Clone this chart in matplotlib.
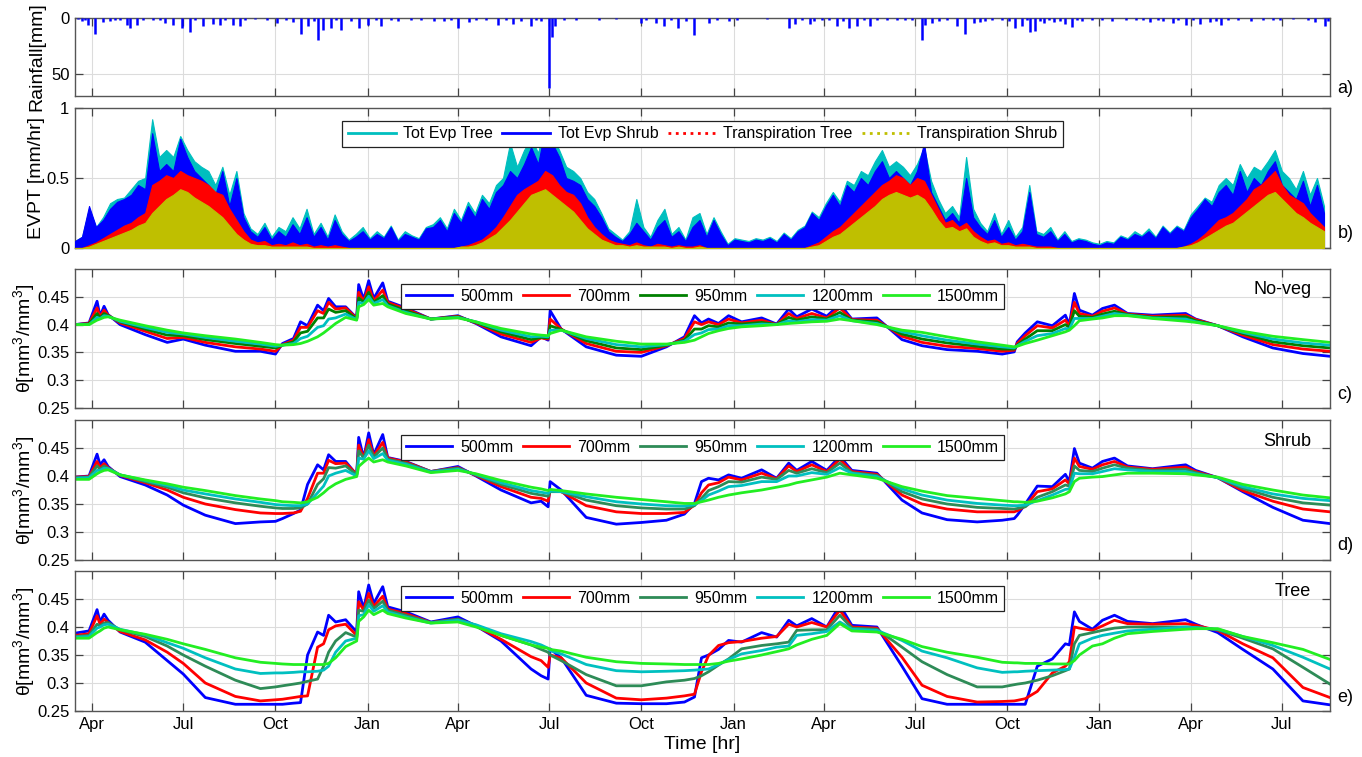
import numpy as np
import matplotlib
matplotlib.use('Agg')
import matplotlib.pyplot as plt
import matplotlib.dates as mdates
from matplotlib.lines import Line2D
from matplotlib.ticker import FuncFormatter

plt.rcParams['font.family'] = ['Liberation Sans', 'DejaVu Sans']
plt.rcParams['mathtext.fontset'] = 'custom'
plt.rcParams['mathtext.rm'] = 'Liberation Sans'
plt.rcParams['mathtext.it'] = 'Liberation Sans:italic'

# day 0 of the simulation
START = np.datetime64('2001-03-15')
N_DAYS = 1252

# --- rainfall events (day, mm) ---
rain_day = [3, 7, 10, 13, 20, 28, 35, 40, 45, 52, 55, 62, 68, 78, 85, 90, 98, 107, 115, 120,
            128, 138, 145, 150, 158, 165, 170, 180, 192, 202, 210, 217, 225, 232, 238, 242, 247, 255, 260, 265,
            275, 283, 292, 300, 305, 315, 322, 335, 345, 358, 368, 375, 382, 393, 400, 410, 422, 430, 437, 445,
            455, 460, 465, 473, 476, 479, 488, 500, 523, 540, 565, 570, 580, 588, 595, 602, 610, 618, 632, 640,
            652, 660, 690, 712, 718, 725, 733, 737, 745, 752, 760, 766, 772, 780, 787, 793, 800, 810, 820, 828,
            835, 845, 848, 855, 862, 870, 880, 888, 897, 903, 908, 915, 925, 932, 938, 945, 950, 953, 958, 963,
            967, 972, 977, 983, 988, 995, 1000, 1005, 1015, 1025, 1035, 1048, 1058, 1065, 1072, 1080, 1085, 1095, 1100, 1108,
            1115, 1122, 1132, 1138, 1143, 1150, 1160, 1173, 1185, 1195, 1202, 1215, 1230, 1237, 1247, 1250]
rain_mm = [1, 3, 2, 6, 14, 4, 3, 2, 1.5, 6, 9, 6, 2, 2, 1.5, 4.5, 6, 9, 13, 2,
           7.5, 5, 6, 1.5, 6, 7.5, 2, 1, 2, 4.5, 2, 4, 14, 7, 3, 20, 11, 9, 2, 11,
           3, 9, 6, 2, 7.5, 1.5, 3, 2, 2, 3, 3, 2, 9, 4, 1.5, 2, 6, 2, 5, 3,
           7.5, 2, 3, 63, 17, 7, 2, 1.5, 2, 1, 4.5, 2, 4.5, 7, 2, 9, 3, 15, 4.5, 2,
           3, 1.5, 1, 9, 5, 2, 5, 3, 2, 1.5, 7, 3, 9, 7.5, 2, 7.5, 2, 1.5, 2, 2,
           2, 20, 6, 4.5, 3, 2, 7.5, 14, 4.5, 4, 3, 2, 2, 3, 9, 7.5, 2, 13, 12, 3,
           4.5, 2, 4, 3, 5, 8, 2, 3, 1.5, 2, 3, 2, 2, 1.5, 4, 2, 3, 4.5, 2, 6,
           2, 5, 4, 3, 6, 2, 1.5, 3, 2, 1.5, 2, 1, 1.5, 4, 7, 3]

# --- evapotranspiration, weekly values [mm/hr] ---
evpt_day = np.arange(0, N_DAYS, 7)
tot_evp_tree = [
    0.05, 0.08, 0.28, 0.15, 0.22, 0.32, 0.35, 0.36, 0.42, 0.48, 0.50, 0.92, 0.65,
    0.70, 0.65, 0.80, 0.70, 0.62, 0.58, 0.55, 0.45, 0.58, 0.38, 0.55, 0.25, 0.14,
    0.10, 0.18, 0.08, 0.15, 0.12, 0.22, 0.14, 0.28, 0.10, 0.18, 0.08, 0.24, 0.12,
    0.06, 0.10, 0.15, 0.07, 0.12, 0.08, 0.16, 0.06, 0.12, 0.09, 0.07, 0.15, 0.17,
    0.22, 0.14, 0.28, 0.20, 0.33, 0.25, 0.38, 0.32, 0.45, 0.50, 0.75, 0.58, 0.70,
    0.78, 0.68, 0.88, 0.80, 0.70, 0.58, 0.55, 0.50, 0.40, 0.35, 0.25, 0.14, 0.10,
    0.06, 0.12, 0.35, 0.15, 0.08, 0.20, 0.28, 0.10, 0.15, 0.06, 0.22, 0.25, 0.10,
    0.22, 0.12, 0.03, 0.07, 0.06, 0.05, 0.07, 0.06, 0.08, 0.05, 0.11, 0.07, 0.13,
    0.16, 0.26, 0.22, 0.32, 0.40, 0.33, 0.48, 0.45, 0.55, 0.52, 0.62, 0.70, 0.58,
    0.62, 0.58, 0.52, 0.60, 0.72, 0.48, 0.35, 0.25, 0.30, 0.22, 0.65, 0.28, 0.18,
    0.12, 0.25, 0.10, 0.20, 0.08, 0.15, 0.45, 0.12, 0.10, 0.15, 0.06, 0.12, 0.05,
    0.07, 0.06, 0.04, 0.03, 0.05, 0.04, 0.09, 0.07, 0.12, 0.09, 0.14, 0.08, 0.16,
    0.11, 0.16, 0.13, 0.24, 0.30, 0.36, 0.33, 0.45, 0.50, 0.45, 0.60, 0.50, 0.58,
    0.55, 0.62, 0.70, 0.55, 0.50, 0.42, 0.55, 0.38, 0.50, 0.30]
tot_evp_shrub = [
    0.05, 0.08, 0.30, 0.15, 0.20, 0.28, 0.33, 0.35, 0.38, 0.45, 0.42, 0.82, 0.55,
    0.60, 0.55, 0.78, 0.65, 0.55, 0.50, 0.45, 0.38, 0.55, 0.30, 0.50, 0.22, 0.12,
    0.08, 0.15, 0.06, 0.12, 0.08, 0.17, 0.10, 0.22, 0.08, 0.15, 0.06, 0.20, 0.10,
    0.05, 0.08, 0.12, 0.06, 0.10, 0.07, 0.15, 0.05, 0.10, 0.08, 0.06, 0.14, 0.15,
    0.20, 0.12, 0.25, 0.18, 0.30, 0.22, 0.35, 0.28, 0.40, 0.45, 0.55, 0.50, 0.60,
    0.72, 0.60, 0.85, 0.75, 0.65, 0.50, 0.48, 0.45, 0.35, 0.30, 0.22, 0.12, 0.08,
    0.05, 0.10, 0.18, 0.12, 0.06, 0.15, 0.20, 0.08, 0.12, 0.05, 0.15, 0.20, 0.08,
    0.20, 0.10, 0.02, 0.06, 0.05, 0.04, 0.06, 0.05, 0.07, 0.04, 0.10, 0.06, 0.12,
    0.15, 0.25, 0.20, 0.30, 0.38, 0.30, 0.45, 0.40, 0.50, 0.45, 0.55, 0.62, 0.50,
    0.55, 0.50, 0.45, 0.55, 0.75, 0.40, 0.30, 0.20, 0.25, 0.18, 0.50, 0.22, 0.15,
    0.10, 0.20, 0.08, 0.15, 0.06, 0.12, 0.40, 0.10, 0.08, 0.12, 0.05, 0.10, 0.04,
    0.06, 0.05, 0.03, 0.02, 0.04, 0.03, 0.08, 0.06, 0.10, 0.08, 0.12, 0.07, 0.15,
    0.10, 0.15, 0.12, 0.22, 0.28, 0.35, 0.30, 0.40, 0.45, 0.38, 0.55, 0.40, 0.50,
    0.45, 0.55, 0.62, 0.45, 0.40, 0.35, 0.48, 0.30, 0.45, 0.25]
transp_tree = [
    0.00, 0.00, 0.02, 0.04, 0.07, 0.10, 0.13, 0.16, 0.18, 0.22, 0.25, 0.45, 0.48,
    0.52, 0.50, 0.55, 0.52, 0.50, 0.48, 0.45, 0.40, 0.38, 0.28, 0.20, 0.12, 0.06,
    0.04, 0.05, 0.02, 0.03, 0.02, 0.04, 0.02, 0.03, 0.01, 0.02, 0.01, 0.02, 0.01,
    0.00, 0.00, 0.00, 0.00, 0.00, 0.00, 0.00, 0.00, 0.00, 0.00, 0.00, 0.00, 0.00,
    0.00, 0.00, 0.00, 0.01, 0.02, 0.04, 0.06, 0.10, 0.15, 0.22, 0.30, 0.38, 0.42,
    0.45, 0.48, 0.55, 0.52, 0.45, 0.40, 0.38, 0.32, 0.22, 0.15, 0.10, 0.06, 0.04,
    0.03, 0.02, 0.04, 0.02, 0.01, 0.03, 0.02, 0.01, 0.02, 0.01, 0.01, 0.02, 0.00,
    0.00, 0.00, 0.00, 0.00, 0.00, 0.00, 0.00, 0.00, 0.00, 0.00, 0.00, 0.00, 0.00,
    0.00, 0.02, 0.04, 0.08, 0.12, 0.15, 0.20, 0.25, 0.30, 0.35, 0.40, 0.45, 0.48,
    0.52, 0.50, 0.45, 0.50, 0.48, 0.38, 0.28, 0.18, 0.20, 0.15, 0.18, 0.12, 0.08,
    0.05, 0.06, 0.03, 0.04, 0.02, 0.03, 0.02, 0.01, 0.01, 0.01, 0.00, 0.00, 0.00,
    0.00, 0.00, 0.00, 0.00, 0.00, 0.00, 0.00, 0.00, 0.00, 0.00, 0.00, 0.00, 0.00,
    0.00, 0.00, 0.01, 0.03, 0.06, 0.10, 0.15, 0.20, 0.22, 0.25, 0.30, 0.35, 0.42,
    0.45, 0.50, 0.55, 0.45, 0.38, 0.35, 0.32, 0.25, 0.20, 0.15]
transp_shrub = [
    0.00, 0.00, 0.01, 0.03, 0.05, 0.07, 0.09, 0.11, 0.13, 0.16, 0.18, 0.25, 0.30,
    0.35, 0.38, 0.42, 0.40, 0.36, 0.33, 0.30, 0.26, 0.22, 0.16, 0.10, 0.06, 0.03,
    0.02, 0.02, 0.01, 0.01, 0.01, 0.01, 0.01, 0.01, 0.00, 0.00, 0.00, 0.00, 0.00,
    0.00, 0.00, 0.00, 0.00, 0.00, 0.00, 0.00, 0.00, 0.00, 0.00, 0.00, 0.00, 0.00,
    0.00, 0.00, 0.00, 0.01, 0.01, 0.02, 0.04, 0.07, 0.10, 0.15, 0.20, 0.26, 0.32,
    0.38, 0.40, 0.42, 0.38, 0.34, 0.30, 0.26, 0.20, 0.14, 0.10, 0.06, 0.04, 0.02,
    0.02, 0.01, 0.02, 0.01, 0.01, 0.01, 0.01, 0.00, 0.01, 0.00, 0.00, 0.01, 0.00,
    0.00, 0.00, 0.00, 0.00, 0.00, 0.00, 0.00, 0.00, 0.00, 0.00, 0.00, 0.00, 0.00,
    0.00, 0.01, 0.02, 0.05, 0.08, 0.10, 0.14, 0.18, 0.22, 0.26, 0.30, 0.35, 0.38,
    0.40, 0.38, 0.36, 0.38, 0.35, 0.28, 0.20, 0.14, 0.15, 0.12, 0.14, 0.08, 0.05,
    0.03, 0.04, 0.02, 0.02, 0.01, 0.01, 0.01, 0.00, 0.00, 0.00, 0.00, 0.00, 0.00,
    0.00, 0.00, 0.00, 0.00, 0.00, 0.00, 0.00, 0.00, 0.00, 0.00, 0.00, 0.00, 0.00,
    0.00, 0.00, 0.01, 0.02, 0.04, 0.07, 0.10, 0.13, 0.16, 0.18, 0.22, 0.26, 0.30,
    0.34, 0.38, 0.40, 0.35, 0.30, 0.25, 0.22, 0.18, 0.15, 0.12]

# --- soil moisture [mm3/mm3] at the sampled days below ---
theta_day = [0, 14, 22, 25, 29, 33, 45, 70, 92, 108, 130, 160, 185, 200, 207, 218, 225, 232, 242, 248,
             253, 260, 270, 281, 283, 288, 293, 298, 307, 312, 330, 355,
             382, 400, 425, 455, 465, 472, 474, 485, 510, 540, 565, 590, 608, 618, 625, 632, 642, 652,
             665, 685, 700, 712, 720, 735, 750, 763, 775, 800, 825,
             845, 870, 900, 925, 937, 940, 948, 960, 975, 988, 992, 997, 1002, 1015, 1025, 1037, 1050, 1075,
             1108, 1118, 1140, 1165, 1195, 1225, 1252]

depths = ['500mm', '700mm', '950mm', '1200mm', '1500mm']

# no vegetation
noveg_500 = [0.400, 0.403, 0.442, 0.415, 0.433, 0.418, 0.400, 0.382, 0.368, 0.374, 0.363, 0.352, 0.352, 0.347, 0.366, 0.375, 0.405, 0.398, 0.435, 0.425, 0.447, 0.432, 0.432, 0.412, 0.472, 0.445, 0.479, 0.447, 0.475, 0.442, 0.430, 0.410,
             0.416, 0.402, 0.378, 0.362, 0.378, 0.372, 0.425, 0.392, 0.360, 0.345, 0.343, 0.360, 0.378, 0.416, 0.403, 0.410, 0.402, 0.416, 0.405, 0.412, 0.401, 0.428, 0.414, 0.428, 0.415, 0.437, 0.410, 0.412, 0.373,
             0.362, 0.355, 0.352, 0.347, 0.351, 0.369, 0.385, 0.405, 0.398, 0.417, 0.400, 0.456, 0.426, 0.417, 0.429, 0.435, 0.420, 0.417, 0.420, 0.410, 0.398, 0.378, 0.358, 0.348, 0.343]
noveg_700 = [0.400, 0.402, 0.430, 0.414, 0.426, 0.417, 0.403, 0.388, 0.375, 0.377, 0.368, 0.360, 0.356, 0.352, 0.364, 0.372, 0.395, 0.395, 0.425, 0.420, 0.440, 0.428, 0.430, 0.411, 0.458, 0.442, 0.468, 0.443, 0.462, 0.440, 0.428, 0.410,
             0.415, 0.403, 0.383, 0.368, 0.376, 0.374, 0.410, 0.392, 0.366, 0.352, 0.350, 0.362, 0.375, 0.405, 0.400, 0.405, 0.400, 0.410, 0.403, 0.408, 0.400, 0.420, 0.411, 0.420, 0.412, 0.430, 0.409, 0.408, 0.379,
             0.368, 0.361, 0.357, 0.352, 0.354, 0.366, 0.380, 0.398, 0.394, 0.408, 0.398, 0.440, 0.420, 0.415, 0.424, 0.430, 0.419, 0.415, 0.417, 0.409, 0.398, 0.381, 0.364, 0.356, 0.352]
noveg_950 = [0.400, 0.401, 0.420, 0.412, 0.420, 0.416, 0.405, 0.392, 0.381, 0.380, 0.373, 0.366, 0.361, 0.358, 0.363, 0.369, 0.385, 0.388, 0.412, 0.412, 0.428, 0.422, 0.425, 0.410, 0.448, 0.440, 0.458, 0.440, 0.452, 0.437, 0.425, 0.410,
             0.414, 0.404, 0.387, 0.373, 0.377, 0.376, 0.398, 0.391, 0.371, 0.358, 0.355, 0.363, 0.372, 0.392, 0.392, 0.398, 0.396, 0.403, 0.401, 0.404, 0.400, 0.413, 0.408, 0.414, 0.410, 0.422, 0.408, 0.405, 0.383,
             0.374, 0.367, 0.361, 0.356, 0.356, 0.363, 0.374, 0.389, 0.389, 0.400, 0.395, 0.425, 0.415, 0.413, 0.419, 0.424, 0.418, 0.413, 0.414, 0.407, 0.398, 0.384, 0.369, 0.362, 0.358]
noveg_1200 = [0.400, 0.400, 0.413, 0.411, 0.416, 0.415, 0.406, 0.395, 0.386, 0.383, 0.377, 0.370, 0.365, 0.361, 0.363, 0.366, 0.375, 0.379, 0.395, 0.398, 0.410, 0.412, 0.419, 0.409, 0.440, 0.438, 0.451, 0.438, 0.445, 0.434, 0.422, 0.410,
              0.413, 0.405, 0.390, 0.378, 0.379, 0.378, 0.390, 0.390, 0.375, 0.364, 0.360, 0.364, 0.370, 0.382, 0.385, 0.391, 0.392, 0.398, 0.398, 0.401, 0.400, 0.407, 0.405, 0.409, 0.408, 0.416, 0.407, 0.402, 0.387,
              0.380, 0.372, 0.365, 0.360, 0.358, 0.362, 0.370, 0.380, 0.384, 0.393, 0.392, 0.411, 0.411, 0.411, 0.415, 0.420, 0.417, 0.412, 0.410, 0.405, 0.398, 0.386, 0.374, 0.367, 0.363]
noveg_1500 = [0.400, 0.400, 0.408, 0.410, 0.413, 0.414, 0.408, 0.398, 0.390, 0.385, 0.380, 0.374, 0.368, 0.364, 0.363, 0.364, 0.366, 0.370, 0.378, 0.385, 0.392, 0.402, 0.413, 0.408, 0.432, 0.436, 0.445, 0.435, 0.438, 0.432, 0.420, 0.410,
              0.412, 0.405, 0.393, 0.383, 0.381, 0.380, 0.384, 0.390, 0.378, 0.370, 0.365, 0.365, 0.368, 0.372, 0.378, 0.384, 0.389, 0.393, 0.396, 0.398, 0.400, 0.402, 0.403, 0.405, 0.406, 0.410, 0.407, 0.400, 0.390,
              0.386, 0.378, 0.369, 0.363, 0.360, 0.361, 0.366, 0.372, 0.380, 0.387, 0.390, 0.398, 0.407, 0.410, 0.412, 0.416, 0.416, 0.411, 0.406, 0.404, 0.398, 0.388, 0.379, 0.373, 0.368]

# shrub cover
shrub_500 = [0.398, 0.400, 0.439, 0.420, 0.429, 0.417, 0.399, 0.384, 0.366, 0.348, 0.330, 0.315, 0.318, 0.319, 0.324, 0.333, 0.339, 0.385, 0.420, 0.411, 0.438, 0.426, 0.426, 0.402, 0.469, 0.432, 0.477, 0.438, 0.474, 0.433, 0.426, 0.408,
             0.417, 0.400, 0.375, 0.352, 0.355, 0.345, 0.390, 0.375, 0.326, 0.314, 0.317, 0.321, 0.332, 0.351, 0.390, 0.396, 0.393, 0.402, 0.396, 0.411, 0.396, 0.423, 0.410, 0.426, 0.410, 0.435, 0.410, 0.405, 0.357,
             0.334, 0.322, 0.318, 0.321, 0.324, 0.330, 0.350, 0.382, 0.381, 0.403, 0.390, 0.449, 0.423, 0.414, 0.426, 0.432, 0.418, 0.413, 0.420, 0.410, 0.397, 0.372, 0.344, 0.321, 0.315]
shrub_700 = [0.398, 0.399, 0.426, 0.415, 0.422, 0.415, 0.401, 0.388, 0.375, 0.362, 0.350, 0.340, 0.334, 0.333, 0.333, 0.334, 0.337, 0.360, 0.405, 0.405, 0.428, 0.422, 0.423, 0.403, 0.455, 0.432, 0.465, 0.436, 0.460, 0.432, 0.425, 0.408,
             0.415, 0.401, 0.381, 0.362, 0.360, 0.355, 0.375, 0.372, 0.347, 0.336, 0.333, 0.333, 0.335, 0.348, 0.370, 0.384, 0.388, 0.398, 0.393, 0.405, 0.395, 0.418, 0.408, 0.420, 0.408, 0.430, 0.408, 0.403, 0.366,
             0.350, 0.341, 0.336, 0.336, 0.336, 0.338, 0.346, 0.372, 0.377, 0.393, 0.386, 0.432, 0.417, 0.412, 0.420, 0.426, 0.416, 0.412, 0.416, 0.408, 0.397, 0.374, 0.355, 0.341, 0.336]
shrub_950 = [0.397, 0.398, 0.418, 0.412, 0.418, 0.414, 0.402, 0.390, 0.380, 0.370, 0.361, 0.352, 0.346, 0.343, 0.342, 0.342, 0.343, 0.350, 0.385, 0.395, 0.415, 0.414, 0.418, 0.402, 0.445, 0.432, 0.455, 0.434, 0.450, 0.430, 0.423, 0.408,
             0.414, 0.402, 0.385, 0.369, 0.366, 0.364, 0.372, 0.372, 0.357, 0.347, 0.343, 0.341, 0.341, 0.347, 0.360, 0.374, 0.381, 0.390, 0.389, 0.398, 0.394, 0.410, 0.405, 0.413, 0.406, 0.423, 0.406, 0.401, 0.372,
             0.359, 0.350, 0.344, 0.342, 0.341, 0.342, 0.345, 0.362, 0.372, 0.384, 0.382, 0.418, 0.410, 0.408, 0.414, 0.420, 0.414, 0.410, 0.412, 0.406, 0.397, 0.378, 0.362, 0.352, 0.348]
shrub_1200 = [0.396, 0.397, 0.410, 0.410, 0.414, 0.413, 0.402, 0.392, 0.383, 0.375, 0.368, 0.359, 0.353, 0.349, 0.348, 0.347, 0.347, 0.350, 0.370, 0.382, 0.400, 0.405, 0.410, 0.400, 0.432, 0.430, 0.445, 0.431, 0.440, 0.428, 0.421, 0.407,
              0.412, 0.403, 0.388, 0.374, 0.371, 0.369, 0.373, 0.372, 0.363, 0.354, 0.350, 0.347, 0.346, 0.349, 0.356, 0.366, 0.373, 0.381, 0.383, 0.390, 0.390, 0.400, 0.400, 0.406, 0.403, 0.415, 0.405, 0.399, 0.377,
              0.366, 0.357, 0.351, 0.348, 0.347, 0.347, 0.348, 0.356, 0.366, 0.376, 0.377, 0.405, 0.404, 0.404, 0.408, 0.413, 0.411, 0.408, 0.408, 0.404, 0.397, 0.381, 0.368, 0.360, 0.356]
shrub_1500 = [0.394, 0.394, 0.404, 0.407, 0.410, 0.411, 0.402, 0.393, 0.386, 0.380, 0.374, 0.365, 0.359, 0.356, 0.354, 0.353, 0.352, 0.354, 0.362, 0.370, 0.378, 0.386, 0.394, 0.399, 0.417, 0.425, 0.432, 0.425, 0.429, 0.425, 0.418, 0.406,
              0.410, 0.404, 0.392, 0.380, 0.377, 0.374, 0.376, 0.374, 0.368, 0.362, 0.358, 0.354, 0.351, 0.351, 0.354, 0.357, 0.362, 0.366, 0.370, 0.375, 0.380, 0.384, 0.388, 0.393, 0.398, 0.405, 0.402, 0.396, 0.381,
              0.373, 0.365, 0.360, 0.356, 0.354, 0.354, 0.353, 0.355, 0.361, 0.368, 0.372, 0.390, 0.396, 0.398, 0.399, 0.402, 0.405, 0.405, 0.404, 0.402, 0.398, 0.385, 0.375, 0.366, 0.361]

# tree cover
tree_500 = [0.389, 0.393, 0.431, 0.409, 0.423, 0.412, 0.391, 0.373, 0.340, 0.316, 0.274, 0.262, 0.262, 0.262, 0.262, 0.264, 0.265, 0.350, 0.391, 0.385, 0.421, 0.409, 0.413, 0.391, 0.463, 0.433, 0.475, 0.442, 0.472, 0.436, 0.427, 0.409,
            0.418, 0.402, 0.375, 0.325, 0.313, 0.307, 0.361, 0.345, 0.278, 0.264, 0.263, 0.263, 0.266, 0.275, 0.345, 0.350, 0.360, 0.376, 0.373, 0.390, 0.382, 0.412, 0.402, 0.415, 0.400, 0.439, 0.403, 0.400, 0.330,
            0.272, 0.262, 0.262, 0.262, 0.262, 0.262, 0.262, 0.330, 0.343, 0.370, 0.368, 0.427, 0.410, 0.396, 0.412, 0.421, 0.410, 0.406, 0.413, 0.405, 0.390, 0.360, 0.325, 0.268, 0.261]
tree_700 = [0.385, 0.388, 0.420, 0.405, 0.414, 0.408, 0.392, 0.377, 0.355, 0.335, 0.300, 0.276, 0.268, 0.270, 0.271, 0.274, 0.276, 0.277, 0.364, 0.370, 0.395, 0.402, 0.405, 0.385, 0.445, 0.430, 0.460, 0.437, 0.455, 0.432, 0.424, 0.408,
            0.414, 0.402, 0.378, 0.347, 0.340, 0.328, 0.350, 0.345, 0.300, 0.273, 0.270, 0.273, 0.277, 0.280, 0.320, 0.349, 0.367, 0.372, 0.374, 0.380, 0.383, 0.405, 0.400, 0.408, 0.400, 0.430, 0.400, 0.398, 0.346,
            0.296, 0.276, 0.266, 0.267, 0.268, 0.269, 0.272, 0.285, 0.318, 0.330, 0.338, 0.400, 0.398, 0.394, 0.402, 0.412, 0.406, 0.405, 0.406, 0.403, 0.394, 0.370, 0.345, 0.292, 0.274]
tree_950 = [0.383, 0.385, 0.405, 0.402, 0.407, 0.408, 0.395, 0.383, 0.366, 0.350, 0.330, 0.305, 0.290, 0.293, 0.295, 0.298, 0.300, 0.303, 0.307, 0.330, 0.355, 0.375, 0.390, 0.382, 0.430, 0.428, 0.448, 0.433, 0.446, 0.430, 0.421, 0.408,
            0.414, 0.403, 0.385, 0.368, 0.360, 0.355, 0.350, 0.340, 0.315, 0.295, 0.295, 0.302, 0.305, 0.308, 0.313, 0.320, 0.332, 0.343, 0.361, 0.367, 0.370, 0.373, 0.394, 0.395, 0.395, 0.421, 0.398, 0.396, 0.364,
            0.338, 0.315, 0.293, 0.293, 0.297, 0.298, 0.300, 0.305, 0.313, 0.322, 0.325, 0.370, 0.385, 0.390, 0.394, 0.398, 0.400, 0.400, 0.400, 0.399, 0.395, 0.380, 0.361, 0.328, 0.298]
tree_1200 = [0.382, 0.383, 0.398, 0.400, 0.404, 0.405, 0.396, 0.386, 0.372, 0.362, 0.345, 0.325, 0.317, 0.318, 0.318, 0.319, 0.320, 0.320, 0.321, 0.323, 0.330, 0.355, 0.375, 0.380, 0.420, 0.422, 0.440, 0.428, 0.438, 0.427, 0.418, 0.407,
             0.412, 0.404, 0.388, 0.374, 0.368, 0.362, 0.358, 0.352, 0.333, 0.322, 0.320, 0.321, 0.322, 0.323, 0.324, 0.325, 0.333, 0.342, 0.352, 0.358, 0.364, 0.366, 0.385, 0.388, 0.392, 0.409, 0.396, 0.394, 0.376,
             0.357, 0.345, 0.327, 0.319, 0.320, 0.320, 0.321, 0.322, 0.323, 0.324, 0.325, 0.346, 0.370, 0.380, 0.385, 0.389, 0.393, 0.396, 0.400, 0.399, 0.396, 0.383, 0.367, 0.346, 0.325]
tree_1500 = [0.380, 0.380, 0.390, 0.393, 0.398, 0.400, 0.395, 0.387, 0.378, 0.370, 0.360, 0.345, 0.337, 0.335, 0.334, 0.333, 0.333, 0.333, 0.333, 0.333, 0.335, 0.345, 0.365, 0.375, 0.410, 0.418, 0.430, 0.422, 0.430, 0.424, 0.416, 0.407,
             0.409, 0.400, 0.385, 0.368, 0.364, 0.362, 0.360, 0.357, 0.346, 0.338, 0.335, 0.334, 0.333, 0.333, 0.333, 0.333, 0.335, 0.339, 0.343, 0.350, 0.356, 0.361, 0.368, 0.378, 0.385, 0.406, 0.393, 0.391, 0.378,
             0.365, 0.355, 0.346, 0.337, 0.336, 0.336, 0.335, 0.335, 0.334, 0.334, 0.334, 0.340, 0.350, 0.366, 0.370, 0.380, 0.388, 0.392, 0.396, 0.397, 0.397, 0.383, 0.372, 0.360, 0.342]

for s in (noveg_500, noveg_700, noveg_950, noveg_1200, noveg_1500,
          shrub_500, shrub_700, shrub_950, shrub_1200, shrub_1500,
          tree_500, tree_700, tree_950, tree_1200, tree_1500):
    assert len(s) == len(theta_day), len(s)
assert len(rain_day) == len(rain_mm)
for s in (tot_evp_tree, tot_evp_shrub, transp_tree, transp_shrub):
    assert len(s) == len(evpt_day), len(s)


def days_to_dates(days):
    return START + np.asarray(days).astype('timedelta64[D]')


def style_axis(ax, yticks, ylim, show_xlabels=False):
    ax.set_xlim(days_to_dates(0), days_to_dates(N_DAYS))
    ax.set_ylim(*ylim)
    ax.set_yticks(yticks)
    ax.yaxis.set_major_formatter(FuncFormatter(lambda v, p: '%g' % v))
    ax.xaxis.set_major_locator(mdates.MonthLocator(bymonth=[1, 4, 7, 10]))
    ax.xaxis.set_major_formatter(mdates.DateFormatter('%b'))
    ax.grid(True, color='#dcdcdc', lw=0.8)
    ax.set_axisbelow(True)
    ax.tick_params(direction='in', length=6, width=0.9, top=True, right=True,
                   labelsize=12, color='#444444', pad=4)
    if not show_xlabels:
        ax.tick_params(labelbottom=False)
    for sp in ax.spines.values():
        sp.set_color('#555555')
        sp.set_linewidth(1.0)


fig = plt.figure(figsize=(13.62, 7.57), dpi=100)
L, W = 75 / 1362, 1255 / 1362
H = 757


def axes_px(top, bottom):
    return fig.add_axes([L, 1 - bottom / H, W, (bottom - top) / H])


ax_a = axes_px(18, 96)
ax_b = axes_px(108, 248)
ax_c = axes_px(269, 408)
ax_d = axes_px(420, 560)
ax_e = axes_px(571, 711)

# a) rainfall, drawn downwards from the top
ax_a.axhline(0, color='#0000ff', lw=1.2, zorder=2)
ax_a.vlines(days_to_dates(rain_day), 0, rain_mm, color='#0000ff', lw=1.8, zorder=3)
style_axis(ax_a, [0, 50], (70, 0))
ax_a.set_ylabel('Rainfall[mm]', fontsize=14)

# b) evapotranspiration
t = days_to_dates(evpt_day)
ax_b.fill_between(t, 0, tot_evp_tree, color='#00bfbf', lw=0.8, zorder=2)
ax_b.fill_between(t, 0, tot_evp_shrub, color='#0000ff', lw=0.8, zorder=3)
ax_b.fill_between(t, 0, transp_tree, color='#ff0000', lw=0.8, zorder=4)
ax_b.fill_between(t, 0, transp_shrub, color='#bfbf00', lw=0.8, zorder=5)
style_axis(ax_b, [0, 0.5, 1], (0, 1))
ax_b.set_ylabel('EVPT [mm/hr]', fontsize=14)
evpt_handles = [Line2D([], [], color='#00bfbf', lw=2),
                Line2D([], [], color='#0000ff', lw=2),
                Line2D([], [], color='#ff0000', lw=2, ls=':'),
                Line2D([], [], color='#bfbf00', lw=2, ls=':')]
leg = ax_b.legend(evpt_handles, ['Tot Evp Tree', 'Tot Evp Shrub', 'Transpiration Tree', 'Transpiration Shrub'],
                  ncol=4, loc='upper center', bbox_to_anchor=(0.5, 0.965), fontsize=11.5,
                  handlelength=3.0, handletextpad=0.45, columnspacing=0.6,
                  fancybox=False, edgecolor='#222222', framealpha=1, borderpad=0.35)
leg.get_frame().set_linewidth(0.9)
leg.set_zorder(10)

# c-e) soil moisture by depth
panels = [
    (ax_c, [noveg_500, noveg_700, noveg_950, noveg_1200, noveg_1500], 'No-veg', '#008000'),
    (ax_d, [shrub_500, shrub_700, shrub_950, shrub_1200, shrub_1500], 'Shrub', '#2e8b57'),
    (ax_e, [tree_500, tree_700, tree_950, tree_1200, tree_1500], 'Tree', '#2e8b57'),
]
td = days_to_dates(theta_day)
for ax, series, name, mid_green in panels:
    colors = ['#0000ff', '#ff0000', mid_green, '#00c0c0', '#22ee22']
    for vals, col, lab in zip(series, colors, depths):
        ax.plot(td, vals, color=col, lw=2.0, label=lab)
    style_axis(ax, [0.25, 0.3, 0.35, 0.4, 0.45], (0.25, 0.5), show_xlabels=(ax is ax_e))
    ax.set_ylabel(r'θ[mm$^3$/mm$^3$]', fontsize=14)
    lg = ax.legend(ncol=5, loc='upper center', bbox_to_anchor=(0.5, 0.95), fontsize=11.5,
                   handlelength=2.9, handletextpad=0.5, columnspacing=0.6,
                   fancybox=False, edgecolor='#222222', framealpha=1, borderpad=0.3)
    lg.get_frame().set_linewidth(0.9)
    ax.text(0.985, 0.85, name, transform=ax.transAxes, ha='right', va='center', fontsize=13)

for ax, tag in zip([ax_a, ax_b, ax_c, ax_d, ax_e], ['a)', 'b)', 'c)', 'd)', 'e)']):
    ax.text(1.006, 0.1, tag, transform=ax.transAxes, ha='left', va='center', fontsize=13)

ax_a.yaxis.set_label_coords(-0.024, 0.5)
ax_b.yaxis.set_label_coords(-0.024, 0.5)
for ax in (ax_c, ax_d, ax_e):
    ax.yaxis.set_label_coords(-0.03, 0.5)

ax_e.set_xlabel('Time [hr]', fontsize=14, labelpad=3)

fig.savefig('out.png', dpi=100)
